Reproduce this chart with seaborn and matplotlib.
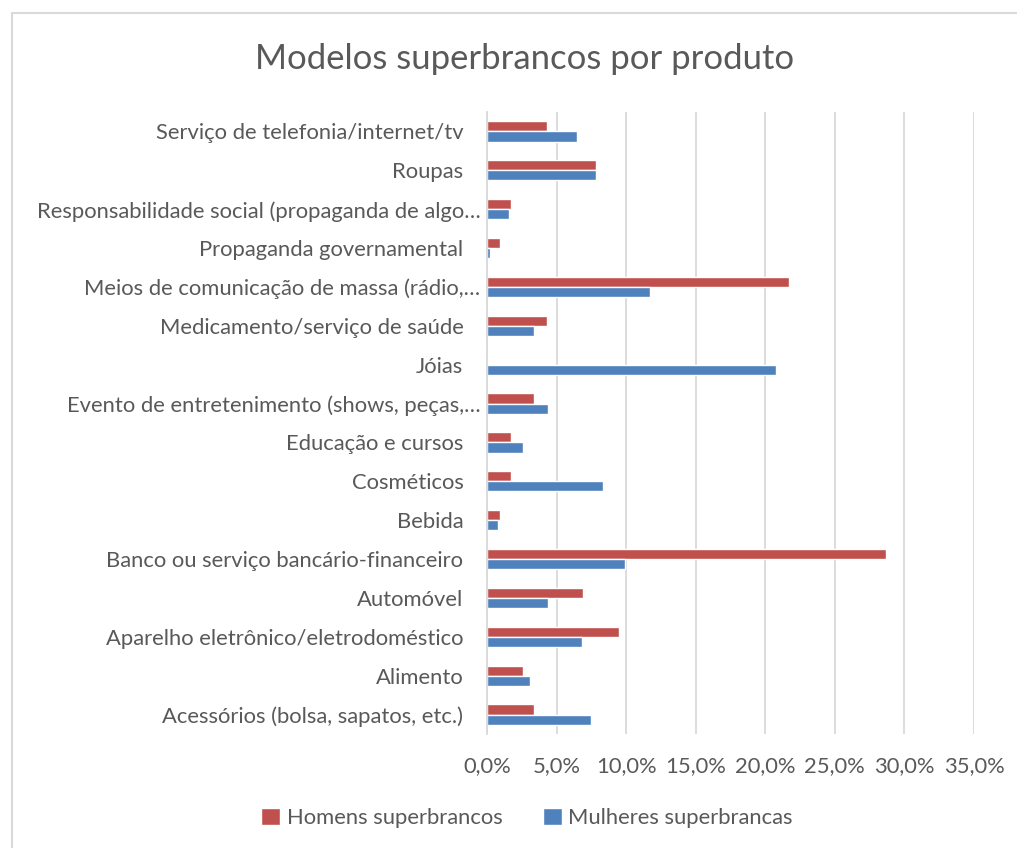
import matplotlib
matplotlib.use("Agg")
import matplotlib.pyplot as plt
import matplotlib.transforms as mtransforms
from matplotlib.patches import Patch
from matplotlib.ticker import FuncFormatter
import pandas as pd
import seaborn as sns

# Data (top to bottom as displayed)
categories = [
    "Serviço de telefonia/internet/tv",
    "Roupas",
    "Responsabilidade social (propaganda de algo…",
    "Propaganda governamental",
    "Meios de comunicação de massa (rádio,…",
    "Medicamento/serviço de saúde",
    "Jóias",
    "Evento de entretenimento (shows, peças,…",
    "Educação e cursos",
    "Cosméticos",
    "Bebida",
    "Banco ou serviço bancário-financeiro",
    "Automóvel",
    "Aparelho eletrônico/eletrodoméstico",
    "Alimento",
    "Acessórios (bolsa, sapatos, etc.)",
]
homens = [4.3, 7.8, 1.7, 0.9, 21.7, 4.3, 0.0, 3.4, 1.7, 1.7, 0.9, 28.7, 6.9, 9.5, 2.6, 3.4]
mulheres = [6.5, 7.8, 1.6, 0.2, 11.7, 3.4, 20.8, 4.4, 2.6, 8.3, 0.8, 9.9, 4.4, 6.8, 3.1, 7.5]
series_names = ["Homens superbrancos", "Mulheres superbrancas"]
x_ticks = [0, 5, 10, 15, 20, 25, 30, 35]

RED = "#C0504D"
BLUE = "#4F81BD"
TEXT = "#595959"
GRID = "#D9D9D9"
FS = 15.8

df = pd.DataFrame({
    "categoria": categories * 2,
    "valor": homens + mulheres,
    "serie": [series_names[0]] * len(categories) + [series_names[1]] * len(categories),
})

sns.set_style("white")
plt.rcParams["font.family"] = ["Lato", "DejaVu Sans"]

fig = plt.figure(figsize=(10.17, 8.48), dpi=100)
ax = fig.add_axes([0.4789, 0.1344, 0.4788, 0.7335])

sns.barplot(data=df, y="categoria", x="valor", hue="serie", order=categories,
            hue_order=series_names, palette=[RED, BLUE], width=0.52,
            orient="h", ax=ax, legend=False, saturation=1)

ax.set_xlim(0, 35)
ax.set_xticks(x_ticks)
ax.xaxis.set_major_formatter(FuncFormatter(lambda v, p: f"{v:.1f}%".replace(".", ",")))
ax.grid(axis="x", color=GRID, linewidth=1.3)
ax.set_axisbelow(True)
for side in ["top", "right", "bottom"]:
    ax.spines[side].set_visible(False)
ax.spines["left"].set_color(GRID)
ax.spines["left"].set_linewidth(1.3)
ax.set_xlabel("")
ax.set_ylabel("")
ax.tick_params(axis="both", length=0, labelsize=FS, labelcolor=TEXT)
ax.tick_params(axis="y", pad=17)
ax.tick_params(axis="x", pad=16)

# truncated labels sit closer to the axis in the original
for lbl in ax.get_yticklabels():
    if lbl.get_text().endswith("…"):
        lbl.set_transform(lbl.get_transform() + mtransforms.ScaledTranslation(17 / 100, 0, fig.dpi_scale_trans))

fig.text(0.516, 1 - 59 / 848, "Modelos superbrancos por produto", ha="center", va="center",
         fontsize=24.9, color=TEXT)

handles = [Patch(facecolor=RED, label=series_names[0]), Patch(facecolor=BLUE, label=series_names[1])]
fig.legend(handles=handles, loc="center", bbox_to_anchor=(527 / 1017, 1 - 818 / 848), ncol=2,
           frameon=False, fontsize=FS, labelcolor=TEXT, handlelength=0.85, handleheight=0.85,
           handletextpad=0.3, columnspacing=1.85)

# chart area border
fig.add_artist(plt.Line2D([12 / 1017, 12 / 1017], [0, 1 - 13 / 848], color=GRID, linewidth=1.5,
                          transform=fig.transFigure))
fig.add_artist(plt.Line2D([12 / 1017, 1], [1 - 13 / 848, 1 - 13 / 848], color=GRID, linewidth=1.5,
                          transform=fig.transFigure))

fig.savefig("out.png", dpi=100, facecolor="white")
plt.close(fig)
